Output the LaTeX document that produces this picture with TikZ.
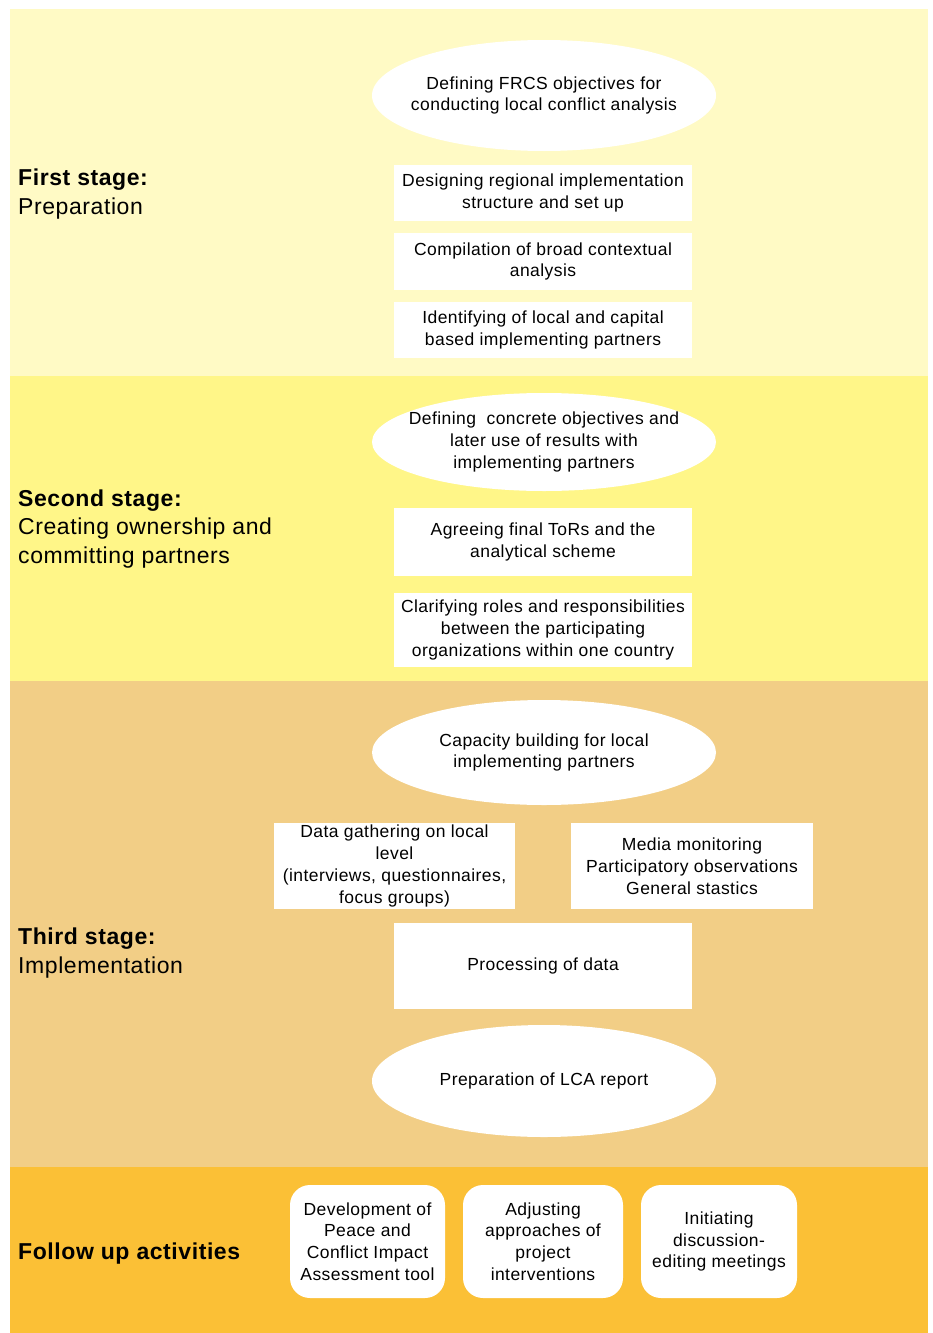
\documentclass[tikz,border=0pt]{standalone}
\usepackage{fontspec}
\setmainfont[LetterSpace=2.5]{Liberation Sans}
\usetikzlibrary{shapes.geometric}
\definecolor{bandA}{HTML}{FFFAC5}
\definecolor{bandB}{HTML}{FFF688}
\definecolor{bandC}{HTML}{F2CE86}
\definecolor{bandD}{HTML}{FBC036}
\tikzset{
  boxtext/.style={font=\fontsize{17.5}{21.8}\selectfont, align=center, text=black},
  ovalbox/.style={boxtext, ellipse, fill=white, inner xsep=-60pt, inner ysep=0pt, minimum width=344pt},
  rectbox/.style={boxtext, rectangle, fill=white, inner sep=0pt, minimum width=298pt},
  roundbox/.style={boxtext, rectangle, rounded corners=20pt, fill=white, inner sep=0pt, minimum height=113pt},
  stagelabel/.style={font=\fontsize{23}{28.8}\selectfont, align=left, anchor=west, inner sep=0pt}
}
\begin{document}
\begin{tikzpicture}[x=1pt,y=-1pt]
\useasboundingbox (0,0) rectangle (932,1333);
\fill[white] (0,0) rectangle (932,1333);
% bands
\fill[bandA] (10,9) rectangle (928,376);
\fill[bandB] (10,376) rectangle (928,681);
\fill[bandC] (10,681) rectangle (928,1167);
\fill[bandD] (10,1167) rectangle (928,1333);

% labels
\node[stagelabel] (l1) at (18,194) {\textbf{First stage:}\\Preparation};
\node[stagelabel] (l2) at (18,529) {\textbf{Second stage:}\\Creating ownership and\\committing partners};
\node[stagelabel] (l3) at (18,953) {\textbf{Third stage:}\\Implementation};
\node[stagelabel] (l4) at (18,1254) {\textbf{Follow up activities}};

% stage 1
\node[ovalbox, minimum height=111pt] (e1) at (544,95.5) {Defining FRCS objectives for\\conducting local conflict analysis};
\node[rectbox, minimum height=56pt] (r1) at (543,193) {Designing regional implementation\\structure and set up};
\node[rectbox, minimum height=57pt] (r2) at (543,261.5) {Compilation of broad contextual\\analysis};
\node[rectbox, minimum height=56pt] (r3) at (543,330) {Identifying of local and capital\\based implementing partners};

% stage 2
\node[ovalbox, minimum height=98pt] (e2) at (544,442) {Defining\ \ concrete objectives and\\later use of results with\\implementing partners};
\node[rectbox, minimum height=68pt] (r4) at (543,542) {Agreeing final ToRs and the\\analytical scheme};
\node[rectbox, minimum height=74pt] (r5) at (543,630) {Clarifying roles and responsibilities\\between the participating\\organizations within one country};

% stage 3
\node[ovalbox, minimum height=105pt] (e3) at (544,752.5) {Capacity building for local\\implementing partners};
\node[boxtext, rectangle, fill=white, inner sep=0pt, minimum width=241pt, minimum height=86pt] (r6) at (394.5,866) {Data gathering on local\\level\\(interviews, questionnaires,\\focus groups)};
\node[boxtext, rectangle, fill=white, inner sep=0pt, minimum width=242pt, minimum height=86pt] (r7) at (692,866) {Media monitoring\\Participatory observations\\General stastics};
\node[rectbox, minimum height=86pt] (r8) at (543,966) {Processing of data};
\node[ovalbox, minimum height=112pt] (e4) at (544,1081) {Preparation of LCA report};

% follow up
\node[roundbox, minimum width=155pt] (f1) at (367.5,1241.5) {Development of\\Peace and\\Conflict Impact\\Assessment tool};
\node[roundbox, minimum width=160pt] (f2) at (543,1241.5) {Adjusting\\approaches of\\project\\interventions};
\node[roundbox, minimum width=156pt] (f3) at (719,1241.5) {Initiating\\discussion-\\editing meetings};
\end{tikzpicture}
\end{document}
